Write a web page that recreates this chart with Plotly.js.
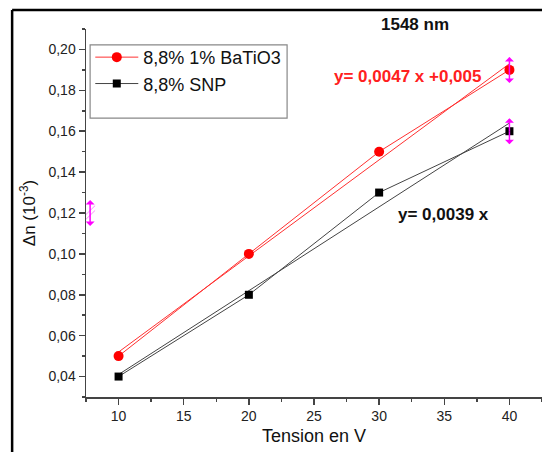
<!DOCTYPE html>
<html>
<head>
<meta charset="utf-8">
<script src="https://cdn.plot.ly/plotly-3.0.1.min.js"></script>
<style>html,body{margin:0;padding:0;background:#fff;}#chart{width:542px;height:452px;}</style>
</head>
<body>
<div id="chart"></div>
<script>
// Data
const tension = [10, 20, 30, 40];
const batio3 = [0.05, 0.10, 0.15, 0.19];
const snp = [0.04, 0.08, 0.13, 0.16];
const nameBatio3 = "8,8% 1% BaTiO3";
const nameSnp = "8,8% SNP";
const eqBatio3 = "y= 0,0047 x +0,005";
const eqSnp = "y= 0,0039 x";
const chartTitle = "1548 nm";
const xTitle = "Tension en V";
const yTitle = "Δn (10<sup>-3</sup>)";

function linfit(xs, ys) {
  const n = xs.length;
  const mx = xs.reduce((a, b) => a + b, 0) / n;
  const my = ys.reduce((a, b) => a + b, 0) / n;
  let sxy = 0, sxx = 0;
  for (let i = 0; i < n; i++) { sxy += (xs[i] - mx) * (ys[i] - my); sxx += (xs[i] - mx) ** 2; }
  const m = sxy / sxx, b = my - m * mx;
  return xs.map(x => m * x + b);
}
const fitB = linfit(tension, batio3);
const fitS = linfit(tension, snp);

const traces = [
  {x: tension, y: fitB, mode: 'lines', line: {color: '#ff3030', width: 1}, showlegend: false, hoverinfo: 'skip'},
  {x: tension, y: fitS, mode: 'lines', line: {color: '#444', width: 1}, showlegend: false, hoverinfo: 'skip'},
  {x: tension, y: batio3, name: nameBatio3, mode: 'lines+markers', line: {color: '#ff3030', width: 1},
   marker: {symbol: 'circle', size: 10, color: '#ff0000'}},
  {x: tension, y: snp, name: nameSnp, mode: 'lines+markers', line: {color: '#444', width: 1},
   marker: {symbol: 'square', size: 8, color: '#000000'}}
];

const lastI = tension.length - 1;
function magArrow(x, y, dir, xref) {
  return {x: x, y: y, xref: xref || 'x', yref: 'y', text: ' ', showarrow: true, ax: 0, ay: dir * 15,
    arrowside: 'start', arrowhead: 2, arrowsize: 1, arrowwidth: 1.5, arrowcolor: '#ff00ff', standoff: 0, startstandoff: 0,
    font: {size: 1}};
}

const FONT = 'Liberation Sans, Arial, sans-serif';
const tickFont = {family: FONT, size: 14, color: '#222'};
function txt(x, y, s, size, color) {
  return {xref: 'paper', yref: 'paper', x: x, y: y, xanchor: 'center', yanchor: 'middle', text: s, showarrow: false,
    font: {family: FONT, size: size, color: color}};
}
const layout = {
  width: 542, height: 452,
  margin: {l: 86, r: 0, t: 29, b: 55},
  paper_bgcolor: '#fff', plot_bgcolor: '#fff',
  separators: ', ',
  showlegend: true,
  legend: {x: 0.0094, y: 0.973, xanchor: 'left', yanchor: 'top', bgcolor: 'rgba(0,0,0,0)', borderwidth: 0,
    font: {family: FONT, size: 18, color: '#111'}, tracegroupgap: 0, itemwidth: 43},
  xaxis: {range: [7.5, 42.5], tick0: 0, dtick: 5, showgrid: false, zeroline: false,
    showline: true, linecolor: '#444', linewidth: 1.5, ticks: 'outside', ticklen: 6, tickwidth: 1.5, tickcolor: '#444',
    minor: {ticks: 'outside', ticklen: 3, tickwidth: 1.5, tickcolor: '#444', dtick: 2.5, tick0: 0, showgrid: false},
    tickfont: tickFont,
    title: {text: xTitle, font: {family: FONT, size: 18, color: '#111'}, standoff: 6}},
  yaxis: {range: [0.03, 0.21], tick0: 0, dtick: 0.02, tickformat: '.2f', showgrid: false, zeroline: false,
    showline: true, linecolor: '#444', linewidth: 1.5, ticks: 'outside', ticklen: 6, tickwidth: 1.5, tickcolor: '#444',
    minor: {ticks: 'outside', ticklen: 3, tickwidth: 1.5, tickcolor: '#444', dtick: 0.01, tick0: 0, showgrid: false},
    tickfont: tickFont,
    title: {text: yTitle, font: {family: FONT, size: 17, color: '#111'}, standoff: 8}},
  annotations: [
    txt(0.7215, 1.011, '<b>' + chartTitle + '</b>', 17, '#111'),
    txt(0.706, 0.872, '<b>' + eqBatio3 + '</b>', 17, '#ff2020'),
    txt(0.783, 0.4946, '<b>' + eqSnp + '</b>', 17, '#111'),
    magArrow(tension[lastI], batio3[lastI], -1), magArrow(tension[lastI], batio3[lastI], 1),
    magArrow(tension[lastI], snp[lastI], -1), magArrow(tension[lastI], snp[lastI], 1),
    magArrow(0.009, 0.12, -1, 'paper'), magArrow(0.009, 0.12, 1, 'paper')
  ],
  shapes: [
    // legend box
    {type: 'rect', xref: 'paper', yref: 'paper', x0: 0.009, x1: 0.441, y0: 0.758, y1: 0.957,
     line: {color: '#888', width: 1.2}, fillcolor: 'rgba(0,0,0,0)'},
    // outer frame
    {type: 'line', xref: 'paper', yref: 'paper', x0: -0.162, x1: 1.0, y0: 1.0516, y1: 1.0516, line: {color: '#000', width: 2.5}},
    {type: 'line', xref: 'paper', yref: 'paper', x0: -0.162, x1: -0.162, y0: 1.0516, y1: -0.16, line: {color: '#000', width: 2.5}},
    // axis break hatch
    {type: 'line', xref: 'paper', yref: 'paper', x0: 0.0, x1: 0.02, y0: 0.496, y1: 0.52, line: {color: '#ff88ff', width: 1}},
    {type: 'line', xref: 'paper', yref: 'paper', x0: 0.0, x1: 0.02, y0: 0.483, y1: 0.507, line: {color: '#ff88ff', width: 1}}
  ]
};

Plotly.newPlot('chart', traces, layout, {staticPlot: true, displayModeBar: false});
</script>
</body>
</html>
